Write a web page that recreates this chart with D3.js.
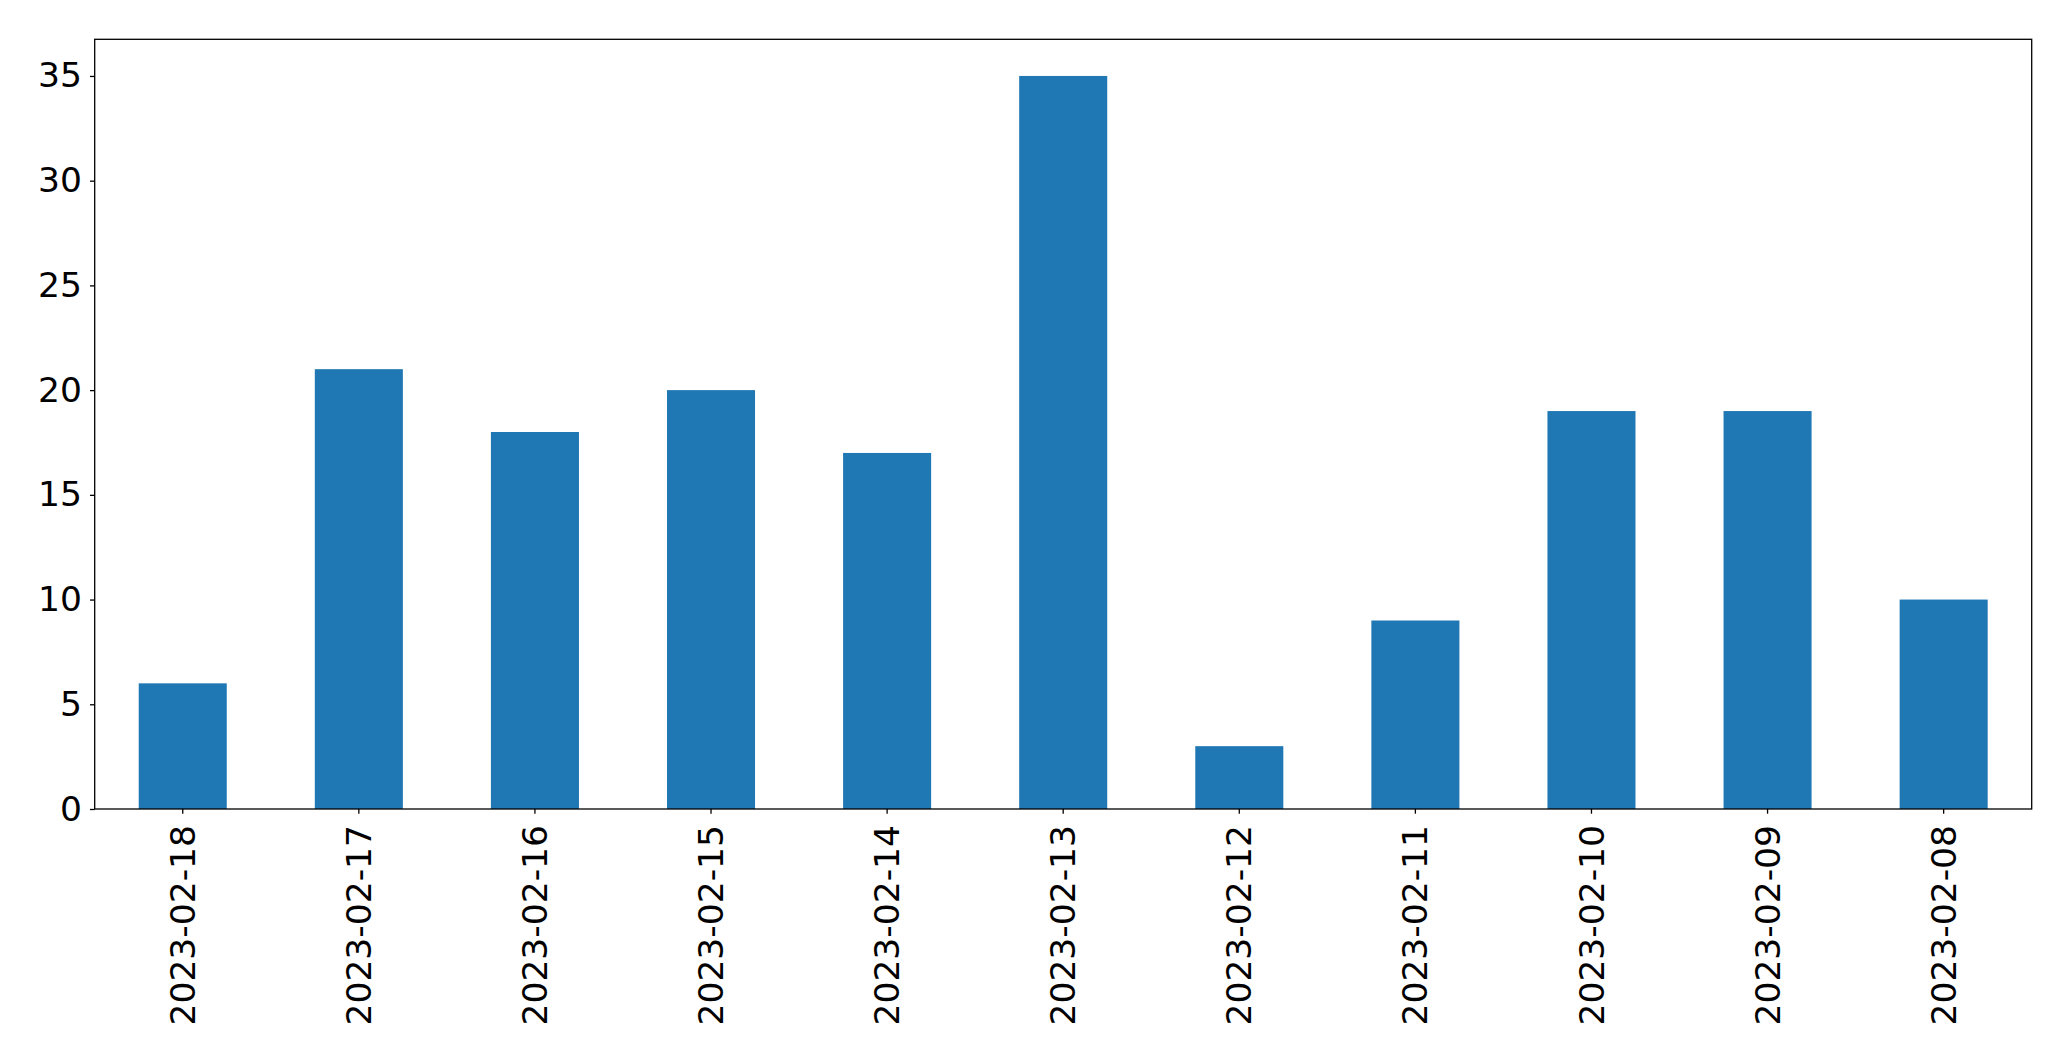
<!DOCTYPE html>
<html><head><meta charset="utf-8">
<script src="https://cdn.jsdelivr.net/npm/d3@7"></script>
<style>body{margin:0;background:#fff}svg{display:block}</style>
</head><body>
<svg id="chart" width="2071" height="1061"></svg>
<script>
const categories = ["2023-02-18","2023-02-17","2023-02-16","2023-02-15","2023-02-14","2023-02-13","2023-02-12","2023-02-11","2023-02-10","2023-02-09","2023-02-08"];
const values = [6, 21, 18, 20, 17, 35, 3, 9, 19, 19, 10];
const yTicks = [0, 5, 10, 15, 20, 25, 30, 35];

const W = 2071, H = 1061;
const m = {left: 94.7, right: 2071 - 2031.7, top: 39.3, bottom: H - 809};
const svg = d3.select("#chart");
const x = d3.scaleBand().domain(categories).range([m.left, W - m.right]).paddingInner(0.5).paddingOuter(0.25);
const y = d3.scaleLinear().domain([0, 35 * 1.05]).range([H - m.bottom, m.top]);
const font = "DejaVu Sans";
const fs = 34.5;

svg.append("g").selectAll("rect").data(values).join("rect")
  .attr("x", (d, i) => x(categories[i]))
  .attr("width", x.bandwidth())
  .attr("y", d => y(d))
  .attr("height", d => y(0) - y(d))
  .attr("fill", "#1f77b4");

const yAxis = svg.append("g").attr("transform", `translate(${m.left},0)`)
  .call(d3.axisLeft(y).tickValues(yTicks).tickSize(4.7).tickPadding(8).tickFormat(d3.format("d")));
const xAxis = svg.append("g").attr("transform", `translate(0,${H - m.bottom})`)
  .call(d3.axisBottom(x).tickSize(4.7).tickPadding(8));
[yAxis, xAxis].forEach(g => {
  g.select(".domain").remove();
  g.selectAll("line").attr("stroke", "#000").attr("stroke-width", 1.3);
  g.selectAll("text").attr("font-family", font).attr("font-size", fs).attr("fill", "#000");
});
xAxis.selectAll("text")
  .attr("transform", "rotate(-90)")
  .attr("text-anchor", "end")
  .attr("dy", "0.35em")
  .attr("x", -16)
  .attr("y", 0);

svg.append("rect")
  .attr("x", m.left).attr("y", m.top)
  .attr("width", W - m.right - m.left).attr("height", H - m.bottom - m.top)
  .attr("fill", "none").attr("stroke", "#000").attr("stroke-width", 1.3);
</script>
</body></html>
